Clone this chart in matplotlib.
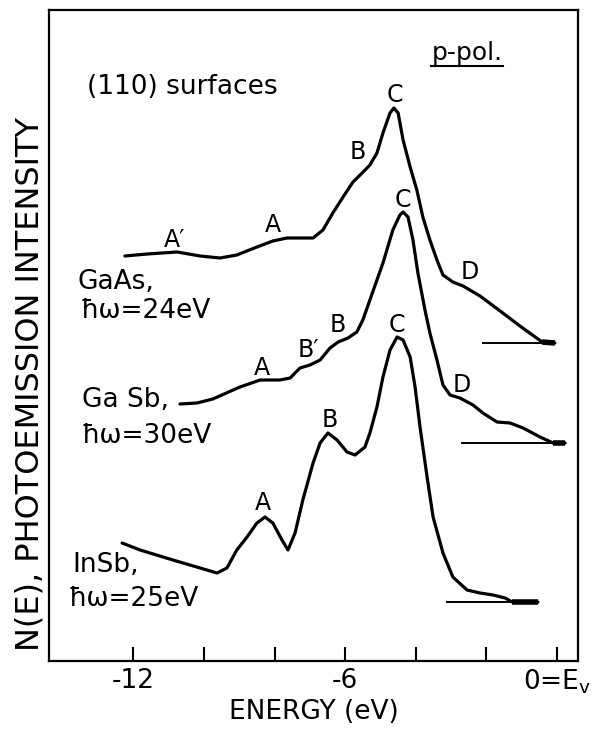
import matplotlib
matplotlib.use("Agg")
import matplotlib.pyplot as plt
from matplotlib.lines import Line2D

plt.rcParams['font.family'] = ['DejaVu Sans']

# ---- data (energy in eV, intensity in arbitrary offset units) ----
gaas_E = [-12.24, -11.61, -10.76, -10.11, -9.55, -9.07, -8.50, -8.05, -7.65, -6.91,
          -6.63, -6.35, -6.06, -5.78, -5.52, -5.30, -5.10, -4.93, -4.73, -4.62,
          -4.50, -4.36, -4.16, -3.97, -3.80, -3.60, -3.40, -3.23, -2.95, -2.66,
          -2.18, -1.61, -1.05, -0.42, -0.06]
gaas_I = [405, 407, 409, 405, 403, 406, 414, 420, 423, 423,
          431, 448, 464, 479, 488, 496, 508, 528, 548, 553,
          548, 521, 494, 471, 444, 421, 401, 386, 379, 375,
          365, 350, 335, 319, 318]
gaas_base = [-2.10, -0.06]
gaas_base_I = 318

gasb_E = [-10.68, -10.20, -9.75, -8.98, -8.41, -7.85, -7.56, -7.28, -7.00, -6.71,
          -6.43, -6.20, -5.92, -5.67, -5.50, -5.30, -4.93, -4.65, -4.45, -4.36,
          -4.22, -4.08, -3.94, -3.74, -3.60, -3.40, -3.23, -3.03, -2.75, -2.38,
          -2.10, -1.70, -1.33, -0.96, -0.48, -0.11, 0.23]
gasb_I = [257, 258, 262, 274, 281, 281, 283, 293, 296, 301,
          313, 319, 323, 329, 341, 361, 398, 431, 446, 449,
          444, 421, 388, 351, 328, 301, 276, 266, 263, 256,
          248, 239, 238, 233, 224, 218, 218]
gasb_base = [-2.69, 0.23]
gasb_base_I = 218

insb_E = [-12.32, -11.81, -10.88, -10.11, -9.63, -9.35, -9.07, -8.78, -8.50, -8.27,
          -8.05, -7.79, -7.62, -7.42, -7.20, -6.91, -6.71, -6.49, -6.23, -5.95,
          -5.72, -5.44, -5.30, -5.10, -4.93, -4.73, -4.53, -4.36, -4.16, -4.02,
          -3.88, -3.68, -3.51, -3.23, -2.95, -2.55, -2.18, -1.81, -1.47, -1.27,
          -0.54]
insb_I = [118, 111, 101, 93, 88, 93, 111, 124, 138, 144,
          138, 121, 111, 128, 161, 198, 218, 228, 221, 209,
          206, 214, 228, 254, 284, 311, 324, 321, 304, 274,
          234, 184, 144, 108, 84, 71, 68, 66, 63, 59,
          59]
insb_base = [-3.12, -0.54]
insb_base_I = 59

# peak labels: (text, energy, intensity)
peak_labels = [
    ("A\u2032", -10.82, 421), ("A", -8.05, 436), ("B", -5.64, 509), ("C", -4.59, 566), ("D", -2.46, 389),
    ("A", -8.36, 293), ("B\u2032", -7.05, 311), ("B", -6.20, 336), ("C", -4.36, 461), ("D", -2.69, 276),
    ("A", -8.33, 158), ("B", -6.43, 241), ("C", -4.53, 336),
]

sample_labels = [
    ("GaAs,", -13.57, 372), ("\u0127\u03c9=24eV", -13.51, 343),
    ("Ga Sb,", -13.46, 254), ("\u0127\u03c9=30eV", -13.46, 218),
    ("InSb,", -13.74, 89), ("\u0127\u03c9=25eV", -13.85, 55),
]

tick_values = [-12, -10, -8, -6, -4, -2, 0]
tick_labels = ["-12", "", "", "-6", "", "", "0=E$_\\mathregular{v}$"]

# ---- figure ----
fig = plt.figure(figsize=(5.92, 7.29), dpi=100)
ax = fig.add_axes([49/592, 68/729, 529/592, 651/729])

lw = 2.3
for E, I, base, bI in [(gaas_E, gaas_I, gaas_base, gaas_base_I),
                       (gasb_E, gasb_I, gasb_base, gasb_base_I),
                       (insb_E, insb_I, insb_base, insb_base_I)]:
    ax.plot(E, I, color='black', lw=lw, solid_capstyle='round', solid_joinstyle='round')
    ax.plot(base, [bI, bI], color='black', lw=1.4)
    ax.plot(E[-2:], I[-2:], color='black', lw=4.0, solid_capstyle='butt')

for t, x, y in peak_labels:
    ax.text(x, y, t, ha='center', va='center', fontsize=17)

for t, x, y in sample_labels:
    ax.text(x, y, t, ha='left', va='baseline', fontsize=19)

ax.text(-13.31, 574, "(110) surfaces", ha='left', va='center', fontsize=19)
tp = ax.text(-2.55, 608, "p-pol.", ha='center', va='center', fontsize=18)

ax.set_xlim(-14.39, 0.595)
ax.set_ylim(0, 651)
ax.set_xticks(tick_values)
ax.set_xticklabels(tick_labels)
ax.set_yticks([])
ax.tick_params(axis='x', direction='in', length=10, width=1.5, pad=5, labelsize=19)
for s in ax.spines.values():
    s.set_linewidth(1.6)
ax.set_xlabel("ENERGY (eV)", fontsize=19, labelpad=2)
fig.text(30/592, 1 - 384/729, "N(E), PHOTOEMISSION INTENSITY", rotation=90,
         ha='center', va='center', fontsize=23)

# underline p-pol.
fig.canvas.draw()
bb = tp.get_window_extent()
inv = fig.transFigure.inverted()
(x0, y0), (x1, y1) = inv.transform([(bb.x0, bb.y0), (bb.x1, bb.y0)])
fig.add_artist(Line2D([x0, x1], [y0 - 0.002, y0 - 0.002], transform=fig.transFigure,
                      color='black', lw=1.5))

fig.savefig("out.png", dpi=100)
